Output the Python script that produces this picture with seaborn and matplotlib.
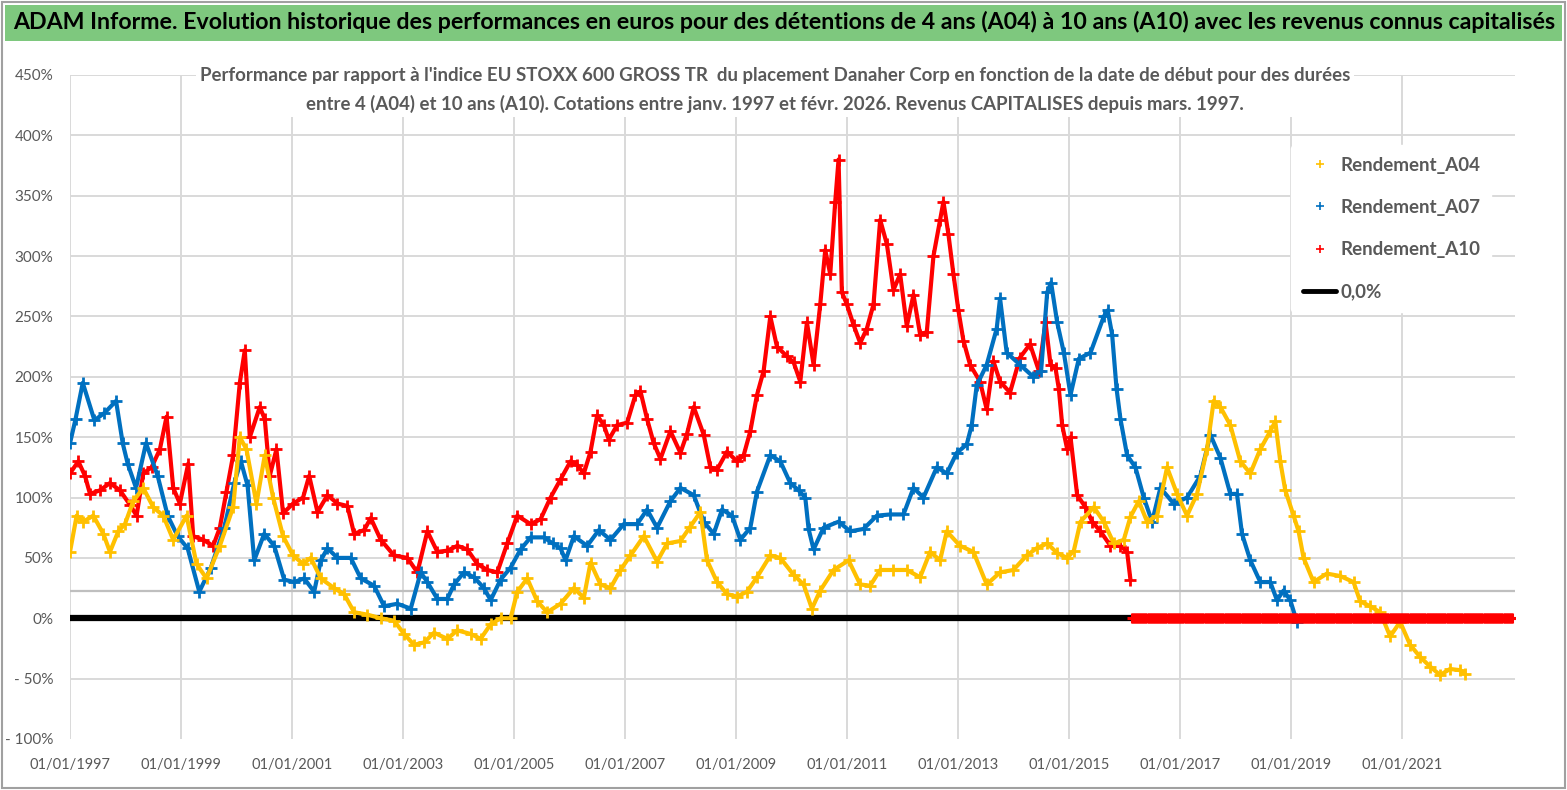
import numpy as np
import pandas as pd
import matplotlib
matplotlib.use("Agg")
import matplotlib.pyplot as plt
from matplotlib.lines import Line2D
from matplotlib.patches import Rectangle
import seaborn as sns

# Values (decimal year, performance in %)
a04_year = [1997.0, 1997.12, 1997.24, 1997.42, 1997.6, 1997.72, 1997.87, 1997.99, 1998.14, 1998.32,
            1998.5, 1998.68, 1998.86, 1999.1, 1999.28, 1999.46, 1999.7, 1999.94, 2000.06, 2000.18,
            2000.36, 2000.51, 2000.66, 2000.84, 2001.02, 2001.2, 2001.34, 2001.52, 2001.76, 2001.94,
            2002.12, 2002.36, 2002.6, 2002.84, 2003.02, 2003.2, 2003.38, 2003.56, 2003.8, 2003.98,
            2004.22, 2004.4, 2004.58, 2004.76, 2004.94, 2005.06, 2005.24, 2005.42, 2005.6, 2005.84,
            2006.08, 2006.26, 2006.38, 2006.56, 2006.74, 2006.92, 2007.1, 2007.34, 2007.58, 2007.76,
            2008.0, 2008.18, 2008.36, 2008.48, 2008.66, 2008.84, 2009.02, 2009.2, 2009.38, 2009.62,
            2009.8, 2010.04, 2010.22, 2010.37, 2010.52, 2010.76, 2011.03, 2011.24, 2011.42, 2011.6,
            2011.84, 2012.08, 2012.32, 2012.5, 2012.68, 2012.8, 2013.04, 2013.28, 2013.52, 2013.76,
            2014.0, 2014.24, 2014.42, 2014.61, 2014.79, 2014.97, 2015.09, 2015.21, 2015.45, 2015.63,
            2015.81, 2015.99, 2016.11, 2016.26, 2016.41, 2016.59, 2016.77, 2016.95, 2017.13, 2017.31,
            2017.49, 2017.61, 2017.73, 2017.91, 2018.09, 2018.27, 2018.45, 2018.63, 2018.72, 2018.81,
            2018.9, 2019.05, 2019.14, 2019.23, 2019.41, 2019.65, 2019.89, 2020.13, 2020.25, 2020.43,
            2020.61, 2020.79, 2020.97, 2021.15, 2021.33, 2021.51, 2021.69, 2021.87, 2022.05, 2022.14]
a04_val = [55, 85, 80, 85, 70, 55, 72, 78, 97, 108,
           92, 85, 65, 85, 45, 33, 60, 92, 150, 140,
           95, 135, 100, 68, 52, 45, 50, 33, 25, 20,
           5, 3, 0, -2, -13, -22, -20, -12, -17, -10,
           -13, -17, -5, 0, 0, 22, 33, 14, 5, 12,
           25, 17, 46, 28, 25, 40, 52, 68, 47, 62,
           64, 76, 88, 48, 30, 20, 18, 22, 34, 52,
           50, 36, 28, 8, 23, 40, 48, 28, 27, 40,
           40, 40, 34, 55, 48, 72, 60, 55, 28, 38,
           40, 52, 58, 62, 54, 50, 56, 80, 92, 80,
           62, 65, 84, 97, 80, 85, 125, 103, 85, 103,
           140, 180, 175, 160, 130, 120, 140, 155, 163, 130,
           106, 85, 72, 50, 30, 37, 35, 30, 14, 10,
           5, -15, -3, -22, -32, -40, -47, -42, -43, -46]

a07_year = [1997.0, 1997.1, 1997.23, 1997.44, 1997.62, 1997.83, 1997.95, 1998.04, 1998.19, 1998.37,
            1998.58, 1998.76, 1998.94, 1999.12, 1999.33, 1999.54, 1999.78, 1999.96, 2000.08, 2000.2,
            2000.32, 2000.5, 2000.68, 2000.86, 2001.04, 2001.22, 2001.4, 2001.52, 2001.64, 2001.82,
            2002.06, 2002.24, 2002.48, 2002.66, 2002.9, 2003.14, 2003.32, 2003.44, 2003.62, 2003.8,
            2003.92, 2004.1, 2004.28, 2004.46, 2004.58, 2004.76, 2004.94, 2005.12, 2005.3, 2005.54,
            2005.7, 2005.84, 2005.93, 2006.08, 2006.32, 2006.53, 2006.74, 2006.98, 2007.22, 2007.4,
            2007.58, 2007.82, 2008.0, 2008.24, 2008.42, 2008.6, 2008.75, 2008.93, 2009.08, 2009.26,
            2009.38, 2009.62, 2009.8, 2009.98, 2010.13, 2010.25, 2010.31, 2010.4, 2010.58, 2010.85,
            2011.06, 2011.3, 2011.54, 2011.78, 2012.02, 2012.2, 2012.38, 2012.62, 2012.8, 2012.98,
            2013.16, 2013.25, 2013.34, 2013.52, 2013.7, 2013.76, 2013.88, 2014.12, 2014.36, 2014.5,
            2014.61, 2014.68, 2014.79, 2014.91, 2015.03, 2015.18, 2015.39, 2015.63, 2015.7, 2015.78,
            2015.86, 2015.93, 2016.05, 2016.2, 2016.35, 2016.5, 2016.65, 2016.89, 2017.13, 2017.37,
            2017.55, 2017.73, 2017.91, 2018.03, 2018.12, 2018.27, 2018.45, 2018.63, 2018.75, 2018.87,
            2018.99, 2019.11]
a07_val = [145, 165, 195, 164, 170, 180, 145, 128, 108, 145,
           118, 85, 68, 58, 22, 42, 75, 112, 130, 110,
           48, 70, 60, 32, 30, 33, 22, 48, 58, 50,
           50, 33, 27, 10, 12, 8, 38, 30, 16, 16,
           28, 38, 34, 25, 15, 32, 42, 57, 67, 67,
           62, 58, 48, 68, 60, 73, 65, 78, 78, 90,
           75, 97, 108, 102, 80, 70, 90, 85, 65, 75,
           105, 135, 130, 112, 106, 100, 74, 57, 75, 80,
           72, 74, 85, 86, 86, 108, 100, 125, 120, 137,
           144, 160, 193, 210, 240, 265, 220, 210, 200, 205,
           270, 278, 245, 220, 185, 215, 220, 250, 255, 235,
           190, 165, 135, 125, 100, 80, 108, 95, 100, 118,
           152, 133, 103, 103, 70, 48, 30, 30, 15, 23,
           15, -3]

a10_year = [1997.0, 1997.15, 1997.27, 1997.36, 1997.54, 1997.72, 1997.9, 1998.08, 1998.2, 1998.32,
            1998.47, 1998.62, 1998.74, 1998.86, 1998.98, 1999.13, 1999.22, 1999.4, 1999.58, 1999.7,
            1999.82, 1999.94, 2000.06, 2000.15, 2000.24, 2000.42, 2000.51, 2000.6, 2000.72, 2000.84,
            2001.02, 2001.2, 2001.31, 2001.46, 2001.64, 2001.82, 2002.0, 2002.12, 2002.3, 2002.42,
            2002.6, 2002.84, 2003.08, 2003.26, 2003.44, 2003.62, 2003.8, 2003.98, 2004.16, 2004.34,
            2004.52, 2004.7, 2004.88, 2005.06, 2005.3, 2005.48, 2005.66, 2005.84, 2006.02, 2006.14,
            2006.26, 2006.38, 2006.5, 2006.62, 2006.71, 2006.86, 2007.04, 2007.19, 2007.28, 2007.4,
            2007.52, 2007.64, 2007.82, 2008.0, 2008.12, 2008.24, 2008.42, 2008.54, 2008.66, 2008.84,
            2009.02, 2009.14, 2009.26, 2009.38, 2009.5, 2009.62, 2009.74, 2009.92, 2010.04, 2010.16,
            2010.28, 2010.4, 2010.52, 2010.61, 2010.7, 2010.79, 2010.85, 2010.91, 2011.0, 2011.12,
            2011.24, 2011.36, 2011.48, 2011.6, 2011.72, 2011.84, 2011.96, 2012.08, 2012.2, 2012.32,
            2012.44, 2012.56, 2012.68, 2012.74, 2012.83, 2012.92, 2013.01, 2013.1, 2013.22, 2013.4,
            2013.52, 2013.64, 2013.76, 2013.94, 2014.12, 2014.3, 2014.46, 2014.58, 2014.67, 2014.76,
            2014.82, 2014.88, 2014.97, 2015.03, 2015.15, 2015.3, 2015.42, 2015.57, 2015.75, 2015.93,
            2016.05, 2016.11]
a10_val = [120, 130, 118, 103, 106, 112, 106, 94, 85, 120,
           125, 140, 167, 108, 95, 128, 68, 65, 60, 75,
           105, 135, 195, 222, 150, 175, 165, 118, 140, 87,
           95, 100, 118, 88, 102, 95, 93, 70, 73, 83,
           65, 52, 50, 38, 72, 55, 56, 60, 57, 45,
           40, 38, 62, 85, 78, 82, 100, 115, 130, 127,
           120, 138, 168, 160, 148, 160, 162, 185, 188, 165,
           145, 132, 155, 137, 153, 175, 152, 125, 123, 138,
           130, 135, 155, 185, 205, 250, 225, 217, 212, 196,
           245, 210, 260, 305, 285, 345, 380, 270, 260, 243,
           228, 240, 260, 330, 310, 272, 285, 242, 268, 235,
           237, 300, 330, 345, 318, 285, 255, 230, 210, 196,
           173, 213, 196, 187, 216, 227, 205, 245, 210, 207,
           190, 160, 140, 150, 102, 92, 80, 72, 60, 60,
           55, 32]

# A10 has no value after early 2016: the source plots it at 0 %
a10_zero_start, a10_zero_end = 2016.13, 2023.0
zero_level = 0.0

xtick_years = list(range(1997, 2022, 2))
xtick_labels = [f"01/01/{y}" for y in xtick_years]
ytick_vals = list(range(-100, 451, 50))
ytick_labels = [f"- {abs(v)}%" if v < 0 else f"{v}%" for v in ytick_vals]

YELLOW, BLUE, RED = "#FFC000", "#0070C0", "#FF0000"
GREY_TXT = "#595959"

sns.set_theme(style="white")
plt.rcParams["font.family"] = ["Lato", "DejaVu Sans"]

fig = plt.figure(figsize=(15.67, 7.90), dpi=100)
W, H = 1567, 790
ax = fig.add_axes([70 / W, 1 - 739 / H, (1515 - 70) / W, (739 - 75) / H])

# grid like the Excel chart
for v in ytick_vals[1:]:
    ax.axhline(v, color="#d9d9d9", lw=1.4, zorder=0)
for y in xtick_years:
    ax.axvline(y, color="#d9d9d9", lw=1.4, zorder=0)
ax.axhline(22.4, color="#bfbfbf", lw=1.6, zorder=0)

df04 = pd.DataFrame({"year": a04_year, "val": a04_val})
df07 = pd.DataFrame({"year": a07_year, "val": a07_val})
df10 = pd.DataFrame({"year": a10_year, "val": a10_val})
zero_x = np.arange(a10_zero_start, a10_zero_end + 1e-9, 1 / 36)
df10z = pd.DataFrame({"year": zero_x, "val": np.full(len(zero_x), zero_level)})
df0 = pd.DataFrame({"year": [1997.0, a10_zero_start], "val": [zero_level, zero_level]})

sns.lineplot(data=df0, x="year", y="val", color="black", lw=4.5, ax=ax, zorder=2)
kw = dict(x="year", y="val", ax=ax, lw=3.0, marker="+", markersize=9, mew=2.0,
          sort=False, estimator=None, zorder=3)
sns.lineplot(data=df10, color=RED, markeredgecolor=RED, **kw)
sns.lineplot(data=df07, color=BLUE, markeredgecolor=BLUE, **kw)
sns.lineplot(data=df04, color=YELLOW, markeredgecolor=YELLOW, **kw)
sns.scatterplot(data=df10z, x="year", y="val", color=RED, marker="+", s=60,
                linewidth=2.2, ax=ax, zorder=4)

ax.set_xlim(1997.0, 2023.04)
ax.set_ylim(-100, 450)
ax.set_xticks(xtick_years)
ax.set_xticklabels(xtick_labels)
ax.set_yticks(ytick_vals)
ax.set_yticklabels(ytick_labels)
ax.tick_params(axis="x", labelsize=10.5, colors=GREY_TXT, length=0, pad=14)
ax.tick_params(axis="y", labelsize=11, colors=GREY_TXT, length=0, pad=12)
ax.set_xlabel("")
ax.set_ylabel("")
for s in ax.spines.values():
    s.set_visible(False)

handles = [
    Line2D([], [], ls="none", marker="+", color=YELLOW, markersize=6, mew=1.2),
    Line2D([], [], ls="none", marker="+", color=BLUE, markersize=6, mew=1.2),
    Line2D([], [], ls="none", marker="+", color=RED, markersize=6, mew=1.2),
    Line2D([], [], color="black", lw=3.5),
]
leg = ax.legend(handles, ["Rendement_A04", "Rendement_A07", "Rendement_A10", "0,0%"],
                loc="upper left", bbox_to_anchor=(1282 / W, 1 - 136 / H),
                bbox_transform=fig.transFigure, frameon=True, facecolor="white",
                edgecolor="white", framealpha=1, fontsize=13.5, labelspacing=1.35,
                handlelength=1.8, handletextpad=0.2, borderpad=0.6)
for t in leg.get_texts():
    t.set_color(GREY_TXT)
    t.set_fontweight("bold")

# banner title
fig.patches.append(Rectangle((5 / W, 1 - 41 / H), (1562 - 5) / W, 36 / H,
                             transform=fig.transFigure, facecolor="#7ec87e",
                             edgecolor="none", zorder=0))
title = fig.text(784 / W, 1 - 22 / H,
                 "ADAM Informe. Evolution historique des performances en euros pour des détentions "
                 "de 4 ans (A04) à 10 ans (A10) avec les revenus connus capitalisés",
                 ha="center", va="center", fontsize=17, fontweight="bold", color="black")
fig.patches.append(Rectangle((2 / W, 2 / H), (W - 4) / W, (H - 4) / H,
                             transform=fig.transFigure, facecolor="none",
                             edgecolor="#a0a0a0", lw=1.5, zorder=0))

sub1 = ("Performance par rapport à l'indice EU STOXX 600 GROSS TR  du placement Danaher Corp "
        "en fonction de la date de début pour des durées")
sub2 = ("entre 4 (A04) et 10 ans (A10). Cotations entre janv. 1997 et févr. 2026. "
        "Revenus CAPITALISES depuis mars. 1997.")
subtitle = fig.text(775 / W, 1 - 90 / H, sub1 + "\n" + sub2,
                    ha="center", va="center", fontsize=13, fontweight="bold", color=GREY_TXT,
                    linespacing=1.75,
                    bbox=dict(facecolor="white", edgecolor="none", pad=3))

# scale the two titles to the widths they take in the reference
fig.canvas.draw()
renderer = fig.canvas.get_renderer()
for txt, target in [(title, 1540), (subtitle, 1148)]:
    width = txt.get_window_extent(renderer).width
    txt.set_fontsize(txt.get_fontsize() * target / width)

fig.savefig("out.png", dpi=100)
